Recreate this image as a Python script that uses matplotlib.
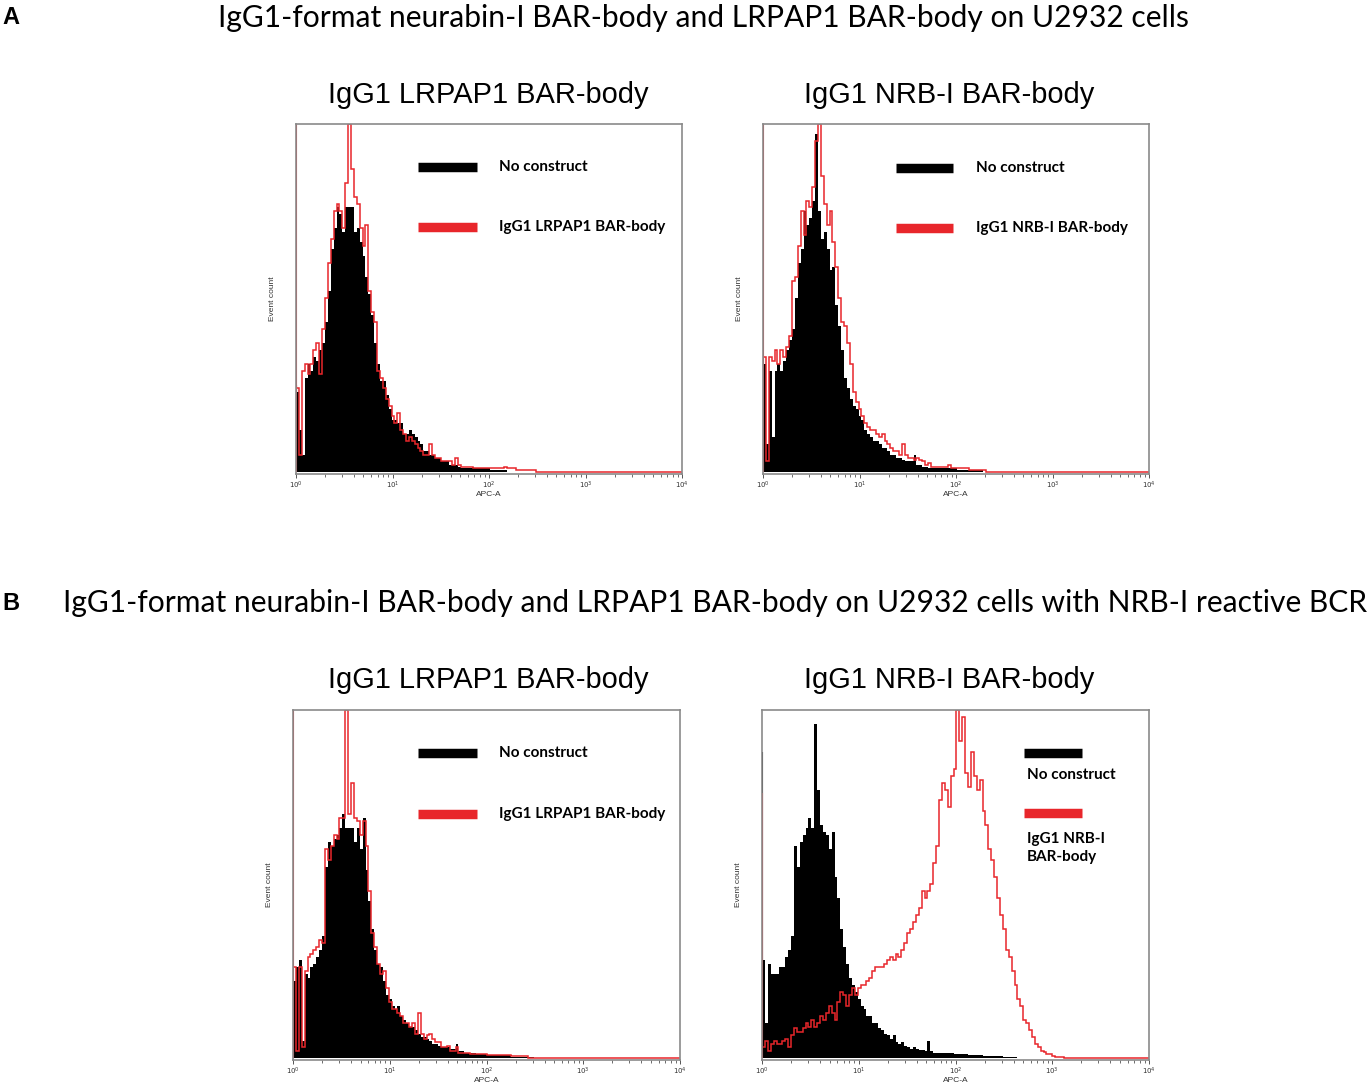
import numpy as np
import matplotlib.pyplot as plt
from matplotlib.ticker import LogLocator, NullFormatter

# histogram bins: equal width in log10(APC-A), starting at 10^0
LOG_STEP = 0.03

# -------------------------------------------------
# Panel A, left: IgG1 LRPAP1 BAR-body (counts as % of axis height)
# -------------------------------------------------
a_left_black = [23, 12, 5, 27, 31, 29, 33, 32, 35, 37,
                43, 52, 64, 70, 76, 74, 69, 76, 76, 76,
                69, 70, 66, 62, 56, 51, 45, 37, 31, 26,
                26, 22, 18, 15, 15, 14, 14, 11, 11, 12,
                11, 10, 9, 8, 6, 6, 5, 5, 4, 4,
                3, 3, 3, 2, 2, 2, 1.5, 1, 1, 1,
                1, 1, 1, 1, 1, 1, 1, 0.5, 0.5, 0.5,
                0.5, 0.5, 0.5]
a_left_red = [24, 5, 29, 31, 28, 31, 35, 37, 28, 41,
              50, 60, 67, 75, 77, 75, 70, 83, 100, 87,
              79, 77, 70, 65, 71, 52, 46, 43, 29, 27,
              24, 21, 19, 16, 14, 17, 12, 11, 9, 10,
              9, 8, 7, 6, 5, 5, 8, 5, 4, 4,
              3, 3, 3, 3, 2, 4, 2, 1.5, 1.5, 1.5,
              1.5, 1, 1, 1, 1, 1, 1, 1, 1, 1,
              1, 1, 1.5, 1, 1, 1, 0.5, 0.5, 0.5, 0.5,
              0.5, 0.5, 0.5]

# -------------------------------------------------
# Panel A, right: IgG1 NRB-I BAR-body
# -------------------------------------------------
a_right_black = [31, 8, 29, 10, 29, 31, 29, 32, 35, 38,
                 41, 50, 60, 64, 75, 71, 73, 78, 97, 75,
                 67, 69, 64, 58, 59, 48, 42, 35, 27, 24,
                 21, 19, 18, 16, 15, 12, 11, 10, 9, 9,
                 8, 7, 7, 6, 5, 5, 4, 4, 3.5, 3,
                 3, 3, 5, 2, 2, 1.5, 1.5, 1, 1, 1,
                 1, 1, 1, 1, 1, 1, 1, 0.5, 0.5, 0.5,
                 0.5, 0.5, 0.5, 0.5, 0.5, 0.5]
a_right_red = [33, 3, 33, 32, 35, 31, 35, 33, 36, 39,
               55, 56, 65, 75, 68, 78, 76, 82, 95, 100,
               85, 77, 71, 75, 66, 59, 50, 43, 42, 37,
               31, 23, 20, 18, 16, 14, 13, 12, 12, 11,
               10, 11, 9, 8, 7, 6, 6, 5, 8, 5,
               4, 4, 3.5, 4, 3.5, 3, 2, 2.5, 1.5, 1.5,
               1.5, 1.5, 1.5, 1.5, 2, 1, 1, 1, 1, 1,
               1, 0.5, 0.5, 0.5, 0.5, 0.5, 0.5]

# -------------------------------------------------
# Panel B, left: IgG1 LRPAP1 BAR-body
# -------------------------------------------------
b_left_black = [22, 26, 28, 5, 24, 23, 26, 27, 29, 31,
                35, 55, 62, 61, 63, 64, 66, 70, 66, 66,
                66, 62, 66, 60, 69, 54, 45, 37, 31, 27,
                26, 22, 18, 17, 15, 14, 15, 12, 11, 10,
                9, 9, 8, 7, 6, 6, 5.5, 5, 4, 4,
                3.5, 3, 3, 3, 2.5, 2.5, 4, 2, 2, 1.5,
                1.5, 1.5, 1.5, 1, 1, 1, 1, 0.7, 0.7, 0.7,
                0.7, 0.7, 0.7, 0.7, 0.7, 0.4, 0.4, 0.4, 0.4, 0.4,
                0.4, 0.4, 0.4]
b_left_red = [26, 2, 26, 3, 25, 29, 30, 31, 32, 34,
              33, 60, 57, 61, 64, 63, 69, 69, 100, 70,
              79, 69, 68, 64, 68, 61, 48, 36, 32, 27,
              24, 25, 20, 16, 14, 14, 13, 12, 10, 10,
              9, 10, 7, 13, 7, 5.5, 6.5, 7, 5.5, 4.5,
              4.5, 3, 3, 3.5, 2, 2, 3, 1.5, 1.5, 1.5,
              1.5, 1, 1, 1, 1, 1, 1, 0.8, 0.8, 0.8,
              0.8, 0.8, 0.8, 0.8, 0.8, 0.5, 0.5, 0.5, 0.5, 0.5,
              0.5]

# -------------------------------------------------
# Panel B, right: IgG1 NRB-I BAR-body
# -------------------------------------------------
b_right_black = [28, 10, 27, 24, 24, 24, 26, 26, 29, 31,
                 35, 61, 55, 62, 64, 66, 69, 66, 96, 77,
                 67, 65, 64, 60, 65, 52, 46, 37, 32, 27,
                 23, 21, 19, 17, 15, 14, 12, 12, 10, 10,
                 8.5, 8, 7, 6.5, 5.5, 6.5, 4.5, 4, 4.5, 3.5,
                 3, 2.7, 3, 2.7, 2.2, 2.2, 2, 5, 2, 1.5,
                 1.5, 1.5, 1.5, 1.5, 1.5, 1.5, 1, 1, 1, 1,
                 1, 0.8, 0.8, 0.8, 0.8, 0.8, 0.5, 0.5, 0.5, 0.5,
                 0.5, 0.5, 0.5, 0.3, 0.3, 0.3, 0.3, 0.3]
b_right_red = [3, 5, 2, 4, 5, 4, 4, 5, 5.5, 3,
               6.5, 8.5, 7.5, 7.5, 8.5, 10, 9, 11, 9, 10,
               12, 11, 13, 15, 13, 11, 16, 19, 18, 15,
               18, 20, 18, 20, 21, 21, 22, 23, 25, 26,
               26, 26, 27, 28, 29, 28, 30, 29, 31, 33,
               36, 37, 39, 41, 43, 48, 46, 48, 50, 56,
               61, 74, 79, 77, 72, 81, 83, 100, 91, 98,
               82, 78, 88, 81, 77, 80, 71, 67, 60, 57,
               52, 46, 41, 37, 31, 29, 25, 21, 17, 15,
               11, 10, 8, 6, 4, 3, 2, 1.7, 1.2, 1,
               0.5, 0.3, 0.3, 0.3]

# first channel (value piled up at 10^0), black / red
first_channel = {'a_left': (25, 130), 'a_right': (30, 130),
                 'b_left': (22, 130), 'b_right': (88, 76)}

RED = '#e8262b'
W, H = 1369, 1089

fig = plt.figure(figsize=(W / 100, H / 100), dpi=100)


def px(x, y):
    return x / W, 1 - y / H


def add_panel(left, top, right, bottom):
    x0, y0 = px(left, bottom)
    return fig.add_axes([x0, y0, (right - left) / W, (bottom - top) / H])


def draw_hist(ax, black, red, firsts):
    eb = np.append(10 ** (np.arange(len(black) + 1) * LOG_STEP), 1e4)
    er = np.append(10 ** (np.arange(len(red) + 1) * LOG_STEP), 1e4)
    ax.stairs(np.append(black, 0), eb, fill=True, color='black', lw=0)
    ax.vlines(1.0, 0, firsts[0], color='black', lw=1.5)
    ax.stairs(np.append(red, 0), er, color=RED, lw=1.1)
    ax.vlines(1.0, 0, firsts[1], color=RED, lw=1.5)

    ax.set_xscale('log')
    ax.set_xlim(1, 1e4)
    ax.set_ylim(-0.6, 100)
    ax.set_yticks([])
    for s in ax.spines.values():
        s.set_color('#8a8a8a')
        s.set_linewidth(1.2)
    ax.xaxis.set_major_locator(LogLocator(base=10, numticks=10))
    ax.xaxis.set_minor_locator(LogLocator(base=10, subs=np.arange(2, 10), numticks=10))
    ax.xaxis.set_minor_formatter(NullFormatter())
    ax.tick_params(axis='x', which='major', length=3, width=0.7, color='#555555',
                   labelsize=5, pad=0.8, labelcolor='#333333')
    ax.tick_params(axis='x', which='minor', length=1.8, width=0.6, color='#555555')
    ax.text(0.5, -0.06, 'APC-A', transform=ax.transAxes, ha='center', va='center',
            fontsize=6, color='#333333', family='Liberation Sans')
    ax.text(-0.06, 0.5, 'Event count', transform=ax.transAxes, ha='center', va='center',
            rotation=90, fontsize=6, color='#333333', family='Liberation Sans')


def legend_bar(ax, x0, x1, y, color):
    ax.plot([x0, x1], [y, y], color=color, lw=6.8, solid_capstyle='butt',
            transform=ax.transAxes, clip_on=False)


def legend_text(ax, x, y, s, **kw):
    ax.text(x, y, s, transform=ax.transAxes, ha='left', va='center',
            fontsize=11, fontweight='bold', family='Lato', **kw)


# -------------------------------------------------
# Axes
# -------------------------------------------------
ax_al = add_panel(296, 124, 682, 474)
ax_ar = add_panel(763, 124, 1149, 474)
ax_bl = add_panel(293, 710, 680, 1060)
ax_br = add_panel(762, 710, 1149, 1060)

draw_hist(ax_al, a_left_black, a_left_red, first_channel['a_left'])
draw_hist(ax_ar, a_right_black, a_right_red, first_channel['a_right'])
draw_hist(ax_bl, b_left_black, b_left_red, first_channel['b_left'])
draw_hist(ax_br, b_right_black, b_right_red, first_channel['b_right'])

# legends
legend_bar(ax_al, 0.316, 0.469, 0.877, 'black')
legend_bar(ax_al, 0.316, 0.469, 0.706, RED)
legend_text(ax_al, 0.526, 0.877, 'No construct')
legend_text(ax_al, 0.526, 0.706, 'IgG1 LRPAP1 BAR-body')

legend_bar(ax_ar, 0.345, 0.492, 0.874, 'black')
legend_bar(ax_ar, 0.345, 0.492, 0.703, RED)
legend_text(ax_ar, 0.552, 0.874, 'No construct')
legend_text(ax_ar, 0.552, 0.703, 'IgG1 NRB-I BAR-body')

legend_bar(ax_bl, 0.323, 0.475, 0.877, 'black')
legend_bar(ax_bl, 0.323, 0.475, 0.703, RED)
legend_text(ax_bl, 0.532, 0.877, 'No construct')
legend_text(ax_bl, 0.532, 0.703, 'IgG1 LRPAP1 BAR-body')

legend_bar(ax_br, 0.677, 0.827, 0.877, 'black')
legend_bar(ax_br, 0.677, 0.827, 0.706, RED)
legend_text(ax_br, 0.685, 0.814, 'No construct')
legend_text(ax_br, 0.685, 0.606, 'IgG1 NRB-I\nBAR-body', linespacing=1.3)

# -------------------------------------------------
# Titles
# -------------------------------------------------
fig.text(*px(2, 18), 'A', ha='left', va='center', fontsize=17, fontweight='bold',
         family='Liberation Sans')
fig.text(*px(2, 603), 'B', ha='left', va='center', fontsize=17, fontweight='bold',
         family='Liberation Sans')
fig.text(*px(703, 18), 'IgG1-format neurabin-I BAR-body and LRPAP1 BAR-body on U2932 cells',
         ha='center', va='center', fontsize=21.6, family='Lato')
fig.text(*px(715, 603),
         'IgG1-format neurabin-I BAR-body and LRPAP1 BAR-body on U2932 cells with NRB-I reactive BCR',
         ha='center', va='center', fontsize=21.6, family='Lato')

for y in (95, 680):
    fig.text(*px(488, y), 'IgG1 LRPAP1 BAR-body', ha='center', va='center',
             fontsize=20.9, family='Liberation Sans')
    fig.text(*px(949, y), 'IgG1 NRB-I BAR-body', ha='center', va='center',
             fontsize=20.9, family='Liberation Sans')

fig.savefig('out.png', dpi=100, facecolor='white')
